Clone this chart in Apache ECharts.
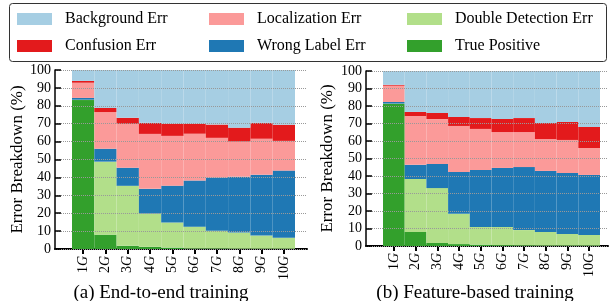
<!DOCTYPE html>
<html>
<head>
    <meta charset="utf-8">
    <title>Error Breakdown</title>
    <script src="https://cdn.jsdelivr.net/npm/echarts@6/dist/echarts.min.js"></script>
</head>
<body style="margin:0">
<div id="main" style="width:610px;height:301px;"></div>
<script type="text/javascript">
// categories (number of groups)
var categories = ['1G', '2G', '3G', '4G', '5G', '6G', '7G', '8G', '9G', '10G'];
var yTicks = [0, 10, 20, 30, 40, 50, 60, 70, 80, 90, 100];

// (a) end-to-end training, % per category
var tpA   = [83.2, 8.0, 1.8, 1.2, 0.8, 0.3, 0.3, 0.2, 0.2, 0.2];
var ddA   = [0.2, 40.8, 33.5, 18.6, 14.0, 12.2, 9.9, 9.0, 7.3, 6.1];
var wlA   = [1.0, 7.2, 10.1, 13.8, 20.6, 25.7, 29.7, 31.2, 34.0, 37.5];
var locA  = [8.5, 20.5, 24.5, 30.7, 27.8, 26.2, 22.2, 19.6, 20.1, 16.6];
var confA = [1.0, 2.3, 3.4, 6.2, 6.8, 5.6, 7.4, 7.8, 8.9, 9.0];

// (b) feature-based training
var tpB   = [81.3, 8.0, 1.7, 1.1, 0.8, 0.5, 0.4, 0.3, 0.3, 0.3];
var ddB   = [0.1, 30.3, 31.4, 17.3, 10.1, 10.4, 8.7, 7.7, 6.6, 6.0];
var wlB   = [0.9, 8.1, 13.8, 23.9, 32.5, 33.7, 36.0, 34.9, 34.8, 34.3];
var locB  = [9.3, 27.8, 25.6, 26.3, 23.5, 20.5, 20.0, 18.2, 18.9, 15.4];
var confB = [0.5, 2.4, 3.5, 5.1, 6.2, 7.5, 8.0, 9.2, 10.3, 12.0];

// background = rest up to 100
function rest(a, b, c, d, e) {
    return a.map(function (v, i) {
        return +(100 - v - b[i] - c[i] - d[i] - e[i]).toFixed(1);
    });
}
var bgA = rest(tpA, ddA, wlA, locA, confA);
var bgB = rest(tpB, ddB, wlB, locB, confB);

var FONT = 'Liberation Serif';
var names = ['True Positive', 'Double Detection Err', 'Wrong Label Err', 'Localization Err', 'Confusion Err', 'Background Err'];
var colors = ['#33a02c', '#b2df8a', '#1f78b4', '#fb9a99', '#e31a1c', '#a6cee3'];

var myChart = echarts.init(document.getElementById('main'));

function makeSeries(list, axisIdx, stack) {
    return list.map(function (d, i) {
        return {
            name: names[i],
            type: 'bar',
            stack: stack,
            xAxisIndex: axisIdx,
            yAxisIndex: axisIdx,
            barCategoryGap: '0%',
            barWidth: '100%',
            itemStyle: {color: colors[i]},
            emphasis: {disabled: true},
            data: d
        };
    });
}

function frameY(gridIdx, nameGap) {
    return {
        type: 'value', gridIndex: gridIdx, min: 0, max: 100, interval: 10, z: 5,
        name: 'Error Breakdown (%)', nameLocation: 'middle', nameGap: nameGap,
        nameTextStyle: {fontFamily: FONT, fontSize: 17, color: '#000'},
        axisLine: {show: true, lineStyle: {color: '#000', width: 1.5}},
        axisTick: {show: true, inside: true, length: 6, lineStyle: {color: '#000', width: 1.5}},
        axisLabel: {fontFamily: FONT, fontSize: 14, color: '#000', margin: 4},
        splitLine: {show: true, lineStyle: {color: '#999', type: [1, 1], width: 1}}
    };
}
function frameX(gridIdx) {
    return {
        type: 'value', gridIndex: gridIdx, min: 0, max: 1,
        axisLine: {show: true, lineStyle: {color: '#000', width: 2}},
        axisTick: {show: false}, axisLabel: {show: false}, splitLine: {show: false}
    };
}
function barX(gridIdx) {
    return {
        type: 'category', gridIndex: gridIdx, data: categories,
        axisLine: {show: false},
        axisTick: {show: true, alignWithLabel: true, length: 5, lineStyle: {color: '#000', width: 2}},
        axisLabel: {
            rotate: 90, margin: 7, fontFamily: FONT, fontSize: 14, color: '#000',
            formatter: function (v) { return v.replace(/G$/, '') + '{g|G}'; },
            rich: {g: {fontFamily: FONT, fontSize: 14, fontStyle: 'italic', color: '#000'}}
        },
        splitLine: {show: false}
    };
}
function barY(gridIdx) {
    return {type: 'value', gridIndex: gridIdx, min: 0, max: 100, show: false};
}

// legend: 2 rows x 3 columns
var legendPos = [
    ['Background Err', 17, 11], ['Localization Err', 209, 11], ['Double Detection Err', 407, 11],
    ['Confusion Err', 17, 38], ['Wrong Label Err', 209, 38], ['True Positive', 407, 38]
];
var legends = legendPos.map(function (p) {
    return {
        data: [p[0]], left: p[1], top: p[2], padding: 0,
        icon: 'rect', itemWidth: 35, itemHeight: 12,
        textStyle: {fontFamily: FONT, fontSize: 16, color: '#000', padding: [0, 0, 0, 8]}
    };
});

myChart.setOption({
    animation: false,
    legend: legends,
    grid: [
        {left: 55, right: 303, top: 70, bottom: 52},
        {left: 72, right: 315, top: 70, bottom: 52},
        {left: 366, right: 2, top: 71, bottom: 55},
        {left: 383, right: 10, top: 71, bottom: 55}
    ],
    xAxis: [frameX(0), barX(1), frameX(2), barX(3)],
    yAxis: [frameY(0, 29), barY(1), frameY(2, 30), barY(3)],
    series: makeSeries([tpA, ddA, wlA, locA, confA, bgA], 1, 'a')
        .concat(makeSeries([tpB, ddB, wlB, locB, confB, bgB], 3, 'b')),
    graphic: [
        {type: 'rect', shape: {x: 9.5, y: 3.5, width: 597, height: 58, r: 3},
         style: {fill: 'none', stroke: '#333', lineWidth: 1}, z: 10},
        {type: 'text', x: 161, y: 293,
         style: {text: '(a) End-to-end training', font: '19px "Liberation Serif"', fill: '#000',
                 textAlign: 'center', textVerticalAlign: 'middle'}},
        {type: 'text', x: 475, y: 293,
         style: {text: '(b) Feature-based training', font: '19px "Liberation Serif"', fill: '#000',
                 textAlign: 'center', textVerticalAlign: 'middle'}}
    ]
});
</script>
</body>
</html>
